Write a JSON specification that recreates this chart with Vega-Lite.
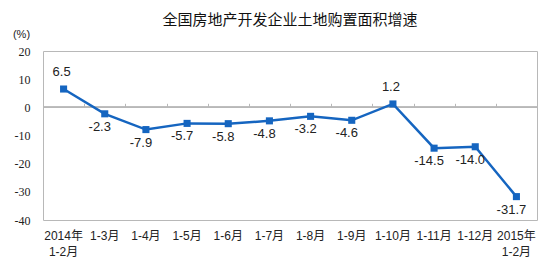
{
  "$schema": "https://vega.github.io/schema/vega-lite/v6.json",
  "autosize": {"type": "none"},
  "width": 494,
  "height": 169,
  "padding": {"left": 43, "top": 51, "right": 13, "bottom": 52},
  "background": "white",
  "title": {
    "text": "全国房地产开发企业土地购置面积增速",
    "font": "Noto Sans CJK SC",
    "fontSize": 15,
    "fontWeight": "normal",
    "color": "#111",
    "anchor": "middle",
    "offset": 0
  },
  "config": {
    "view": {"stroke": "#b8b8b8", "strokeWidth": 1},
    "axis": {"grid": false, "domain": false}
  },
  "data": {
    "values": [
      {"period": "2014年 1-2月", "value": 6.5},
      {"period": "1-3月", "value": -2.3},
      {"period": "1-4月", "value": -7.9},
      {"period": "1-5月", "value": -5.7},
      {"period": "1-6月", "value": -5.8},
      {"period": "1-7月", "value": -4.8},
      {"period": "1-8月", "value": -3.2},
      {"period": "1-9月", "value": -4.6},
      {"period": "1-10月", "value": 1.2},
      {"period": "1-11月", "value": -14.5},
      {"period": "1-12月", "value": -14.0},
      {"period": "2015年 1-2月", "value": -31.7}
    ]
  },
  "encoding": {
    "x": {
      "field": "period",
      "type": "nominal",
      "sort": null,
      "scale": {"paddingInner": 0, "paddingOuter": 0},
      "axis": null
    },
    "y": {
      "field": "value",
      "type": "quantitative",
      "scale": {"domain": [-40, 20], "nice": false},
      "axis": {
        "values": [-40, -30, -20, -10, 0, 10, 20],
        "ticks": false,
        "labelExpr": "replace(datum.label, '−', '-')",
        "labelFont": "Liberation Serif",
        "labelFontSize": 12,
        "labelColor": "#222",
        "labelPadding": 13,
        "title": "(%)",
        "titleAngle": 0,
        "titleFont": "Liberation Sans",
        "titleFontSize": 11,
        "titleFontWeight": "normal",
        "titleColor": "#222",
        "titleX": -22,
        "titleY": -12,
        "titleAlign": "center"
      }
    }
  },
  "layer": [
    {
      "mark": {"type": "rule", "color": "#b8b8b8", "strokeWidth": 1},
      "encoding": {"x": null, "y": {"datum": 0}}
    },
    {
      "mark": {"type": "tick", "color": "#b8b8b8", "orient": "vertical", "size": 0, "opacity": 0},
      "encoding": {
        "x": {
          "field": "period",
          "type": "nominal",
          "sort": null,
          "axis": {
            "orient": "top",
            "offset": -56.3,
            "labels": false,
            "title": null,
            "ticks": true,
            "tickBand": "extent",
            "tickSize": 4,
            "tickColor": "#b8b8b8"
          }
        }
      }
    },
    {
      "mark": {"type": "line", "color": "#1565C0", "strokeWidth": 2.5},
      "encoding": {
        "x": {
          "field": "period",
          "type": "nominal",
          "sort": null,
          "axis": {
            "title": null,
            "orient": "bottom",
            "ticks": false,
            "labelAngle": 0,
            "labelFont": "Liberation Sans, Noto Sans CJK SC",
            "labelFontSize": 12,
            "labelFontWeight": 400,
            "labelColor": "#222",
            "labelPadding": 10,
            "labelLineHeight": 16,
            "labelExpr": "split(datum.label, ' ')"
          }
        }
      }
    },
    {
      "mark": {"type": "square", "color": "#1565C0", "size": 50, "opacity": 1}
    },
    {
      "transform": [
        {"filter": "datum.value > 0"},
        {"calculate": "replace(format(datum.value, '.1f'), '−', '-')", "as": "label"}
      ],
      "mark": {"type": "text", "dy": -17, "dx": -2, "font": "Liberation Sans", "fontSize": 13, "color": "#222"},
      "encoding": {"text": {"field": "label", "type": "nominal"}}
    },
    {
      "transform": [
        {"filter": "datum.value <= 0"},
        {"calculate": "replace(format(datum.value, '.1f'), '−', '-')", "as": "label"}
      ],
      "mark": {"type": "text", "dy": 13, "dx": -5, "font": "Liberation Sans", "fontSize": 13, "color": "#222"},
      "encoding": {"text": {"field": "label", "type": "nominal"}}
    }
  ],
  "resolve": {"axis": {"x": "independent"}}
}
